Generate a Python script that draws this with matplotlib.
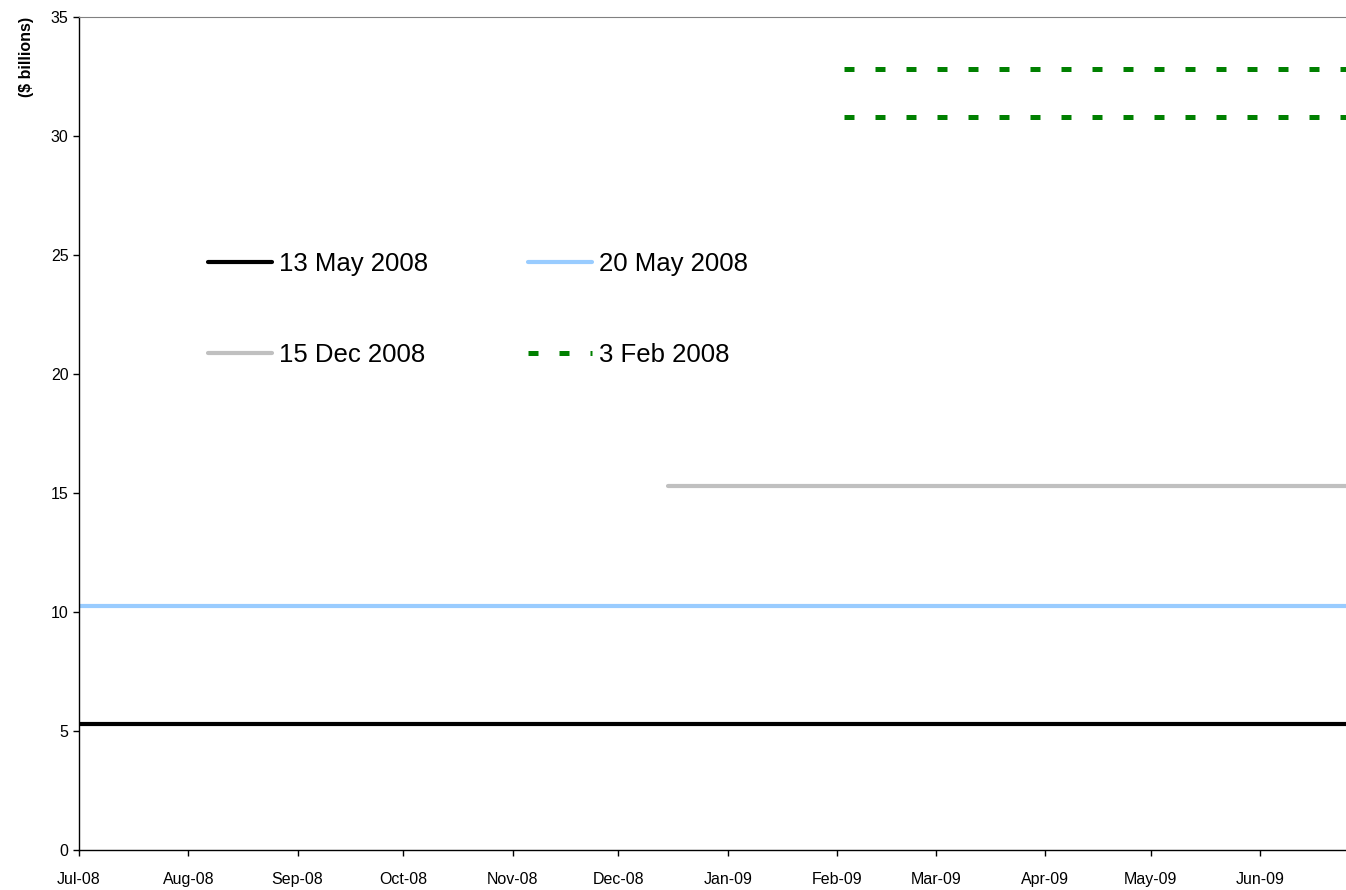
import numpy as np
import matplotlib
matplotlib.use('Agg')
import matplotlib.pyplot as plt
import matplotlib.dates as mdates
from datetime import date

plt.rcParams['font.family'] = ['Liberation Sans', 'DejaVu Sans']

# series: label, start date, level ($ billions)
labels = ['13 May 2008', '20 May 2008', '15 Dec 2008', '3 Feb 2008', None]
starts = [date(2008, 7, 1), date(2008, 7, 1), date(2008, 12, 15), date(2009, 2, 3), date(2009, 2, 3)]
levels = [5.3, 10.25, 15.3, 30.8, 32.8]
end_date = date(2009, 6, 30)

x_lo = mdates.date2num(date(2008, 7, 1))
x_hi = x_lo + 359.4

fig = plt.figure(figsize=(13.46, 8.9), dpi=100)
ax = fig.add_axes([79/1346, 1-850/890, 1-79/1346, (850-17)/890])

styles = [
    dict(color='black', lw=3.0, solid_capstyle='round'),
    dict(color='#99ccff', lw=3.0, solid_capstyle='round'),
    dict(color='#c0c0c0', lw=3.0, solid_capstyle='round'),
    dict(color='green', lw=3.6, dashes=(2.0, 4.2), dash_capstyle='butt'),
    dict(color='green', lw=3.6, dashes=(2.0, 4.2), dash_capstyle='butt'),
]

handles = []
for lab, s, v, st in zip(labels, starts, levels, styles):
    h, = ax.plot([s, end_date], [v, v], label=lab, **st)
    handles.append(h)

ax.set_xlim(x_lo, x_hi)
ax.set_ylim(0, 35)
ax.set_yticks(np.arange(0, 36, 5))
ax.xaxis.set_major_locator(mdates.MonthLocator())
ax.xaxis.set_major_formatter(mdates.DateFormatter('%b-%y'))
ax.tick_params(axis='both', labelsize=11.5, direction='out', length=4, width=1)
ax.tick_params(axis='x', pad=12)

ax.spines['right'].set_visible(False)
ax.spines['top'].set_color('#808080')
ax.spines['left'].set_linewidth(1)
ax.spines['bottom'].set_linewidth(1)

ax.set_ylabel('($ billions)', fontsize=11.5, fontweight='bold', loc='top', labelpad=12)

order = [0, 2, 1, 3]
ax.legend([handles[i] for i in order], [labels[i] for i in order],
          ncol=2, frameon=False, fontsize=18.5, loc='upper left',
          bbox_to_anchor=(208/1346, 1-252/890), bbox_transform=fig.transFigure,
          borderpad=0, borderaxespad=0, handlelength=2.5, handletextpad=0.25,
          columnspacing=3.9, labelspacing=2.6)

fig.savefig('out.png', dpi=100)
